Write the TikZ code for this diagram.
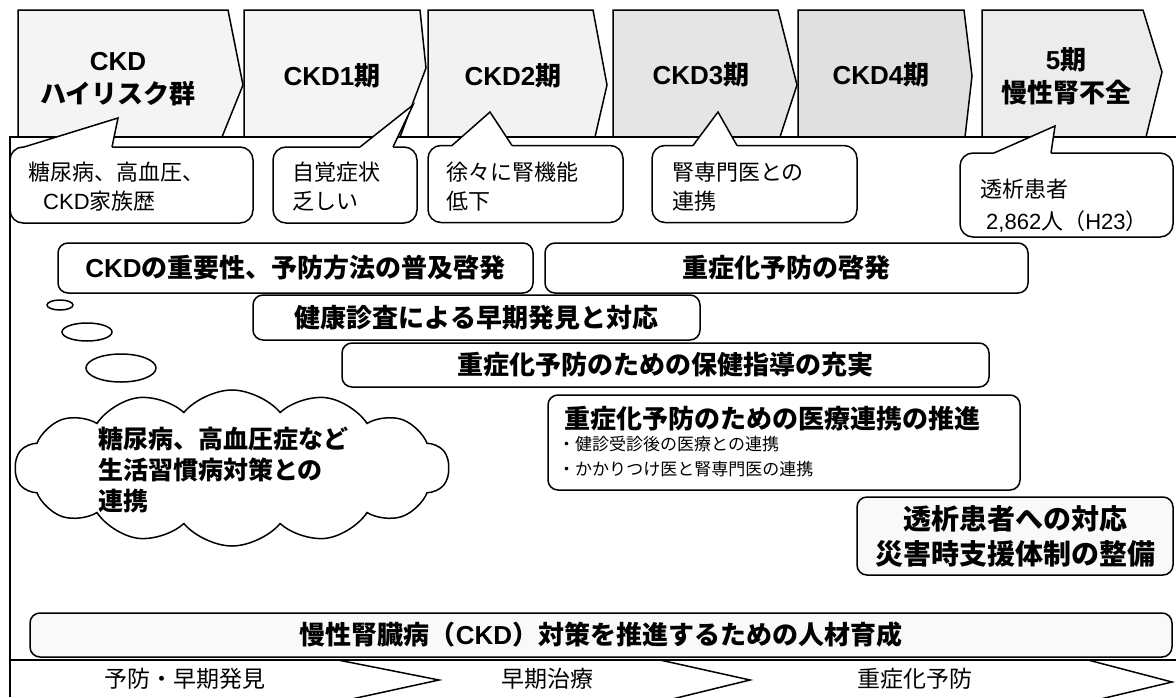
\documentclass[tikz,border=0pt]{standalone}
\usepackage{fontspec}
\setmainfont{Noto Sans CJK JP}
\newfontfamily\lat{Liberation Sans}
\usetikzlibrary{shapes.symbols,calc}

\tikzset{
  ln/.style={line width=1.5pt},
  chev/.style={draw, line width=1.5pt},
  chevtxt/.style={font=\fontsize{26}{33}\selectfont\bfseries, align=center, inner sep=0pt},
  callbox/.style={draw, line width=1.5pt, rounded corners=13pt, fill=white, inner sep=0pt},
  calltxt/.style={font=\fontsize{22}{29}\selectfont, align=left, inner sep=0pt, anchor=west},
  taskbox/.style={draw, line width=1.5pt, rounded corners=10pt, fill=white, inner sep=0pt},
  tasktxt/.style={font=\fontsize{26}{33}\selectfont\bfseries},
  tailline/.style={line width=1.5pt},
  rowtxt/.style={font=\fontsize{23}{28}\selectfont, inner sep=0pt},
  thought/.style={line width=1.5pt, fill=white},
}

\begin{document}
\begin{tikzpicture}[x=1pt,y=-1pt]
\useasboundingbox (0,0) rectangle (1176,697);
\fill[white] (0,0) rectangle (1176,697);
\begin{scope}
\clip (0,0) rectangle (1176,697);

% top stage chevrons
\draw[chev, fill=gray!9]  (18,10) -- (228,10) -- (243,85) -- (222,137) -- (18,137) -- cycle;
\draw[chev, fill=gray!9]  (244,10) -- (420,10) -- (426,68) -- (400,137) -- (244,137) -- cycle;
\draw[chev, fill=gray!10] (428,10) -- (593,10) -- (607,85) -- (595,137) -- (428,137) -- cycle;
\draw[chev, fill=gray!20] (613,10) -- (778,10) -- (797,85) -- (780,137) -- (613,137) -- cycle;
\draw[chev, fill=gray!24] (798,10) -- (964,10) -- (972,76) -- (965,137) -- (798,137) -- cycle;
\draw[chev, fill=gray!15] (982,10) -- (1143,10) -- (1162,72) -- (1146,137) -- (982,137) -- cycle;

\node[chevtxt] (s0) at (118,79) {{\lat CKD}\\ハイリスク群};
\node[chevtxt] (s1) at (332,76) {{\lat CKD1}期};
\node[chevtxt] (s2) at (513,76) {{\lat CKD2}期};
\node[chevtxt] (s3) at (701,75) {{\lat CKD3}期};
\node[chevtxt] (s4) at (881,75) {{\lat CKD4}期};
\node[chevtxt] (s5) at (1066,76) {{\lat 5}期\\慢性腎不全};

% frame
\draw[ln] (10,697) -- (10,137) -- (1176,137);
\draw[ln] (10,660) -- (1176,660);

% callouts
\node[callbox, minimum width=243pt, minimum height=76pt] (k1) at (131.5,185) {};
\node[callbox, minimum width=144pt, minimum height=76pt] (k2) at (345,185) {};
\node[callbox, minimum width=195pt, minimum height=77pt] (k3) at (525.5,184) {};
\node[callbox, minimum width=205pt, minimum height=77pt] (k4) at (754.5,184) {};
\node[callbox, minimum width=213pt, minimum height=84pt] (k5) at (1066.5,195) {};

\coordinate (k1a) at (24,147);   \coordinate (k1p) at (118,118); \coordinate (k1b) at (112,147);
\coordinate (k2a) at (360,147);  \coordinate (k2p) at (413,105); \coordinate (k2b) at (393,147);
\coordinate (k3a) at (452,145.5);  \coordinate (k3p) at (490,112); \coordinate (k3b) at (512,145.5);
\coordinate (k4a) at (693,145.5);  \coordinate (k4p) at (718,112); \coordinate (k4b) at (737,145.5);
\coordinate (k5a) at (994,153);  \coordinate (k5p) at (1055,126); \coordinate (k5b) at (1051,153);
\foreach \k in {k1,k2,k3,k4,k5}{
  \fill[white] (\k a) -- (\k p) -- (\k b) -- ($(\k b)+(0,1.4)$) -- ($(\k a)+(0,1.4)$) -- cycle;
  \draw[tailline] (\k a) -- (\k p) -- (\k b);
}

\node[calltxt] (k1t) at (28,187) {糖尿病、高血圧、\\\hspace*{15pt}{\lat CKD}家族歴};
\node[calltxt] (k2t) at (292,187) {自覚症状\\乏しい};
\node[calltxt] (k3t) at (446,187) {徐々に腎機能\\低下};
\node[calltxt] (k4t) at (672,187) {腎専門医との\\連携};
\node[calltxt, font=\fontsize{22}{32}\selectfont] (k5t) at (980,206) {透析患者\\\hspace*{6pt}{\lat 2,862}人（{\lat H23}）};

% task boxes
\node[taskbox, tasktxt, minimum width=475pt, minimum height=50pt] (b1) at (295.5,268) {{\lat CKD}の重要性、予防方法の普及啓発};
\node[taskbox, tasktxt, minimum width=483pt, minimum height=50pt] (b2) at (786.5,268) {重症化予防の啓発};
\node[taskbox, tasktxt, minimum width=447pt, minimum height=45pt] (b3) at (476.5,317.5) {健康診査による早期発見と対応};
\node[taskbox, tasktxt, minimum width=647pt, minimum height=44pt] (b4) at (665.5,365) {重症化予防のための保健指導の充実};
\node[taskbox, minimum width=472pt, minimum height=95pt] (b5) at (784,442.5) {};
\node[tasktxt, anchor=west, inner sep=0pt] (b5a) at (564,419) {重症化予防のための医療連携の推進};
\node[font=\fontsize{17}{25}\selectfont, align=left, anchor=north west, inner sep=0pt] (b5b) at (558,436) {・健診受診後の医療との連携\\・かかりつけ医と腎専門医の連携};
\node[taskbox, fill=gray!5, minimum width=316pt, minimum height=78pt, font=\fontsize{28}{35}\selectfont\bfseries, align=center] (b6) at (1015,536) {透析患者への対応\\災害時支援体制の整備};
\node[taskbox, tasktxt, fill=gray!5, minimum width=1142pt, minimum height=44pt] (b7) at (601,635) {慢性腎臓病（{\lat CKD}）対策を推進するための人材育成};

% thought cloud
\draw[thought] (60,305) ellipse [x radius=13pt, y radius=5pt];
\draw[thought] (87,332) ellipse [x radius=25pt, y radius=9pt];
\draw[thought] (121,368) ellipse [x radius=35pt, y radius=14pt];
\node[cloud, draw, line width=1.5pt, fill=white, cloud puffs=14, cloud puff arc=100, aspect=2.7, minimum width=434pt, minimum height=156pt, inner sep=0pt] (cl) at (232,468) {};
\node[font=\fontsize{25}{31}\selectfont\bfseries, align=left, anchor=west, inner sep=0pt] (clt) at (98,470) {糖尿病、高血圧症など\\生活習慣病対策との\\連携};

% bottom phase row
\draw[ln] (338,660) -- (439,680) -- (338,702);
\draw[ln] (660,660) -- (750,680) -- (660,702);
\draw[ln] (1088,660) -- (1172,682) -- (1088,702);
\node[rowtxt] (p1) at (185,679) {予防・早期発見};
\node[rowtxt] (p2) at (547,679) {早期治療};
\node[rowtxt] (p3) at (915,679) {重症化予防};
\end{scope}
\end{tikzpicture}
\end{document}
